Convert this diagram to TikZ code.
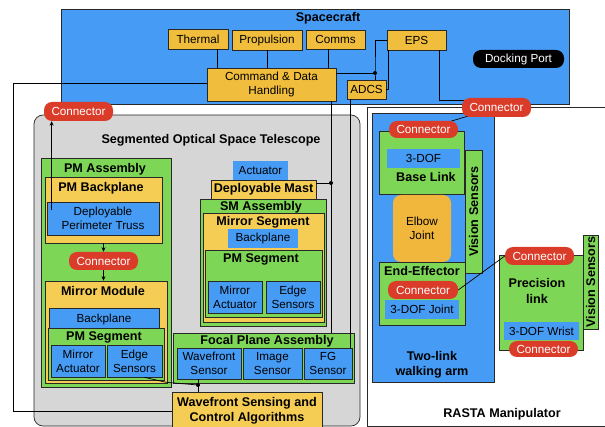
\documentclass[tikz,border=0pt]{standalone}
\usepackage{fontspec}
\setmainfont{Liberation Sans}
\usetikzlibrary{arrows.meta,calc}
\definecolor{cblue}{RGB}{70,156,245}
\definecolor{cyel}{RGB}{240,190,60}
\definecolor{cyel2}{RGB}{245,205,85}
\definecolor{cgrn}{RGB}{125,214,85}
\definecolor{cred}{RGB}{219,60,42}
\definecolor{cgray}{RGB}{214,214,214}
\definecolor{celb}{RGB}{240,183,60}
\definecolor{edge}{RGB}{40,40,40}
\pgfdeclarelayer{back}\pgfdeclarelayer{mid}
\pgfsetlayers{back,mid,main}
\newcommand\rg{\fontsize{11.7}{14}\selectfont}
\newcommand\bd{\fontsize{12.6}{15.5}\selectfont\bfseries}
\newcommand\bx[7]{%
 \pgfmathsetmacro\cxx{(#3+#5)/2}\pgfmathsetmacro\cyy{(#4+#6)/2}%
 \pgfmathsetmacro\ww{#5-#3}\pgfmathsetmacro\hh{#6-#4}%
 \node[#2, minimum width=\ww pt, minimum height=\hh pt] (#1) at (\cxx,\cyy) {#7};}
\begin{document}
\begin{tikzpicture}[x=1pt,y=-1pt,
  base/.style={draw=edge, line width=0.7pt, align=center, inner sep=0pt, font=\rg},
  blu/.style={base, fill=cblue},
  blun/.style={fill=cblue, align=center, inner sep=0pt, font=\rg},
  yel/.style={base, fill=cyel},
  yel2/.style={base, fill=cyel2},
  grn/.style={base, fill=cgrn},
  conn/.style={fill=cred, rounded corners=8pt, text=white, font=\rg, inner sep=0pt},
  ttl/.style={font=\bd, inner sep=0pt, align=center},
  wire/.style={draw=black, line width=0.7pt},
  arr/.style={wire, -{Stealth[length=4.5pt,width=4pt]}},
  dot/.style={circle, fill=black, inner sep=0pt, minimum size=4pt}]
\clip (0,0) rectangle (605,427);
\begin{pgfonlayer}{back}
% Spacecraft
\bx{sc}{blu}{61}{9}{569}{104}{}
\node[ttl] (scT) at (328,18) {Spacecraft};
\bx{thermal}{yel}{168}{29}{228}{49}{Thermal}
\bx{prop}{yel}{232}{30}{302}{50}{Propulsion}
\bx{comms}{yel}{306}{30}{365}{49}{Comms}
\bx{eps}{yel}{387}{30}{446}{50}{EPS}
\bx{cdh}{yel}{207}{68}{336}{101}{Command \& Data\\Handling}
\bx{adcs}{yel}{347}{80}{386}{99}{ADCS}
\bx{dock}{fill=black, text=white, rounded corners=8pt, inner sep=0pt, font=\rg}{473}{50}{564}{68}{Docking Port}
% Telescope
\bx{sost}{base, fill=cgray, rounded corners=9pt}{34}{115}{360}{426}{}
\node[ttl] (sostT) at (211,140) {Segmented Optical Space Telescope};
\bx{pma}{grn}{41}{158}{171}{387}{}
\node[ttl] (pmaT) at (105,169) {PM Assembly};
\bx{pmb}{yel2}{45}{177}{162}{243}{}
\node[ttl] (pmbT) at (101,188) {PM Backplane};
\bx{dpt}{blu}{47}{202}{159}{235}{Deployable\\Perimeter Truss}
\bx{mm}{yel2}{45}{281}{167}{383}{}
\node[ttl] (mmT) at (103,291) {Mirror Module};
\bx{bp1}{blu}{49}{308}{159}{331}{}
\node[font=\rg, inner sep=0pt] (bp1T) at (104,319) {Backplane};
\bx{pms1}{grn}{48}{328}{164}{380}{}
\node[ttl] (pms1T) at (104,337) {PM Segment};
\bx{ma1}{blu}{51}{345}{105}{377}{Mirror\\Actuator}
\bx{es1}{blu}{107}{345}{162}{377}{Edge\\Sensors}
\bx{act}{blun}{233}{161}{288}{180}{Actuator}
\bx{mast}{yel2, font=\bd}{211}{180}{316}{199}{Deployable Mast}
\bx{sma}{grn}{200}{199}{326}{326}{}
\node[ttl] (smaT) at (261,207) {SM Assembly};
\bx{ms}{yel2}{203}{213}{324}{322}{}
\node[ttl] (msT) at (263,222) {Mirror Segment};
\bx{bp2}{blun}{228}{229}{298}{248}{Backplane}
\bx{pms2}{grn}{205}{250}{322}{317}{}
\node[ttl] (pms2T) at (261,259) {PM Segment};
\bx{ma2}{blu}{208}{281}{262}{313}{Mirror\\Actuator}
\bx{es2}{blu}{266}{281}{320}{313}{Edge\\Sensors}
\bx{fpa}{grn}{173}{333}{354}{383}{}
\node[ttl] (fpaT) at (267,341) {Focal Plane Assembly};
\bx{ws}{blu}{177}{348}{241}{379}{Wavefront\\Sensor}
\bx{is}{blu}{243}{348}{302}{379}{Image\\Sensor}
\bx{fg}{blu}{304}{348}{352}{379}{FG\\Sensor}
\bx{wfsc}{yel2, font=\bd}{172}{392}{322}{430}{Wavefront Sensing and\\Control Algorithms}
% RASTA
\bx{rasta}{base, fill=white}{367}{107}{615}{426}{}
\node[ttl] (rastaT) at (502,414) {RASTA Manipulator};
\bx{arm}{blu}{372}{113}{494}{382}{}
\node[ttl] (armT) at (432,365) {Two-link\\walking arm};
\bx{basel}{grn}{379}{131}{464}{194}{}
\bx{dof1}{blun}{387}{149}{460}{168}{3-DOF}
\node[ttl] (baseT) at (426,177) {Base Link};
\bx{vs1}{grn}{465}{150}{482}{273}{}
\node[ttl, rotate=90] (vs1T) at (vs1) {Vision Sensors};
\bx{elbow}{fill=celb, rounded corners=8pt, align=center, inner sep=0pt, font=\rg}{393}{195}{451}{262}{Elbow\\Joint}
\bx{ee}{grn}{379}{262}{465}{325}{}
\node[ttl] (eeT) at (422,271) {End-Effector};
\bx{dof2}{blun}{385}{300}{459}{319}{3-DOF Joint}
\bx{prec}{grn}{499}{255}{583}{350}{}
\node[ttl] (precT) at (537,291) {Precision\\link};
\bx{dof3}{blun}{504}{322}{579}{340}{3-DOF Wrist}
\bx{vs2}{grn}{583}{235}{598}{329}{}
\node[ttl, rotate=90] (vs2T) at (vs2) {Vision Sensors};
\end{pgfonlayer}
% red connectors (top layer)
\bx{crA}{conn}{44}{102}{113}{121}{Connector}
\bx{crB}{conn}{69}{252}{138}{270}{Connector}
\bx{crTop}{conn}{462}{98}{531}{117}{Connector}
\bx{crC}{conn}{389}{121}{458}{138}{Connector}
\bx{crD}{conn}{388}{281}{458}{299}{Connector}
\bx{crE}{conn}{505}{247}{574}{265}{Connector}
\bx{crF}{conn}{509}{341}{578}{357}{Connector}
% junctions
\coordinate (j1) at (375,73);
\coordinate (j2) at (331,183);
\coordinate (j3) at (198,385);
\coordinate (lft) at (13,0);
\coordinate (tx) at (350,0);
\node[dot] (d1) at (j1) {};
\node[dot] (d2) at (j2) {};
\node[dot] (d3) at (j3) {};
\begin{pgfonlayer}{mid}
\draw[wire] ([xshift=19pt]thermal.south) coordinate (a1) -- (a1 |- cdh.north);
\draw[wire] (prop.south) -- (prop.south |- cdh.north);
\draw[wire] ([xshift=-7.5pt]comms.south) coordinate (a2) -- (a2 |- cdh.north);
\draw[wire] (cdh.east |- j1) -- (j1);
\draw[wire] (eps.west) -| (j1) -- (j1 |- adcs.north);
\draw[wire] ([xshift=2pt]eps.south west) |- (adcs.east);
\draw[wire] ([xshift=-7pt]eps.south east) |- ([yshift=7pt]crTop.center);
\draw[wire] (crTop.center) -- (crC.center);
\draw[wire] (crD.east) -- (crE.west);
\draw[wire] ([yshift=1.5pt]cdh.west) coordinate (a3) -- (a3 -| lft) |- (wfsc.west);
\draw[wire] (j2 |- cdh.south) -- (j2 |- fpa.north);
\draw[wire] (mast.east |- j2) -- (j2);
\draw[wire] (tx |- adcs.south) -- (tx |- fg.north);
\draw[arr] ([xshift=5pt,yshift=8pt]dpt.west) coordinate (u) -- (u |- crA.south);
\draw[arr] (pmb.south) -- (crB.north);
\draw[arr] (crB.south) -- (crB.south |- mm.north);
\draw[wire] ([xshift=10pt]es1.south) -- ++(22,5) -- (j3);
\draw[wire] (j3 |- ws.south) -- (j3 |- wfsc.north);
\end{pgfonlayer}
\end{tikzpicture}
\end{document}
